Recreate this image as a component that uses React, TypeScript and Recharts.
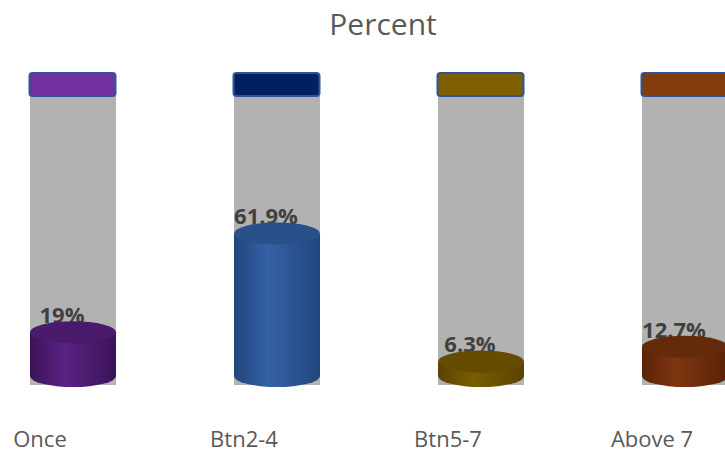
import { BarChart, Bar, XAxis, YAxis } from 'recharts';

const categories = ['Once', 'Btn2-4', 'Btn5-7', 'Above 7'];
const percents = [19, 61.9, 6.3, 12.7];

// cap on top of each tube, then the cylinder shades (edge, middle, top face)
const capColors = ['#7030a0', '#002060', '#7f6000', '#843c0c'];
const edgeColors = ['#3b1358', '#22457c', '#5a4300', '#5a2307'];
const midColors = ['#5a2384', '#3462a8', '#7a5d00', '#7e3611'];
const faceColors = ['#4a1a6d', '#2a5089', '#654c00', '#652a0a'];

const chartData = categories.map((name, i) => ({ name, percent: percents[i] }));

const CAP_H = 24;
const RY = 11;

function Tube(props: any) {
  const { x, y, width, height, index } = props;
  if (width == null) return null;
  return (
    <g>
      <rect x={x} y={y + CAP_H} width={width} height={height - CAP_H + 9} fill="#b2b2b2" />
      <rect
        x={x - 0.5}
        y={y + 1}
        width={width}
        height={CAP_H - 1}
        rx={3}
        fill={capColors[index]}
        stroke="#2f5597"
        strokeWidth={2}
      />
    </g>
  );
}

function Cylinder(props: any) {
  const { x, y, width, height, index, payload } = props;
  if (width == null) return null;
  const rx = width / 2;
  const cx = x + rx;
  const bottom = y + height;
  const id = `tube-grad-${index}`;
  return (
    <g>
      <defs>
        <linearGradient id={id} x1="0" y1="0" x2="1" y2="0">
          <stop offset="0%" stopColor={edgeColors[index]} />
          <stop offset="40%" stopColor={midColors[index]} />
          <stop offset="100%" stopColor={edgeColors[index]} />
        </linearGradient>
      </defs>
      <text
        x={cx - 11}
        y={y - 18}
        textAnchor="middle"
        dominantBaseline="central"
        fontFamily="Open Sans"
        fontWeight="bold"
        fontSize={22}
        fill="#404040"
      >
        {`${payload.percent}%`}
      </text>
      <path
        d={`M${x},${y} L${x},${bottom} A${rx},${RY} 0 0 0 ${x + width},${bottom} L${x + width},${y} Z`}
        fill={`url(#${id})`}
      />
      <ellipse cx={cx} cy={y} rx={rx} ry={RY} fill={faceColors[index]} />
    </g>
  );
}

function CategoryTick(props: any) {
  const { x, y, payload } = props;
  return (
    <text
      x={x - 33}
      y={y}
      dy={63}
      textAnchor="middle"
      fontFamily="Open Sans"
      fontSize={22}
      fill="#595959"
    >
      {payload.value}
    </text>
  );
}

export default function App() {
  return (
    <div
      style={{
        position: 'fixed',
        left: 0,
        top: 0,
        width: 725,
        height: 453,
        overflow: 'hidden',
        background: '#ffffff',
      }}
    >
      <div
        style={{
          position: 'absolute',
          left: 383,
          top: 3,
          transform: 'translateX(-50%)',
          fontFamily: 'Open Sans',
          fontSize: 30,
          color: '#595959',
          whiteSpace: 'nowrap',
        }}
      >
        Percent
      </div>
      <div style={{ position: 'absolute', left: -29, top: 0 }}>
        <BarChart
          width={816}
          height={453}
          data={chartData}
          margin={{ top: 72, right: 0, bottom: 0, left: 0 }}
          barSize={86}
        >
          <XAxis
            dataKey="name"
            axisLine={false}
            tickLine={false}
            height={77}
            tick={<CategoryTick />}
            interval={0}
          />
          <YAxis hide domain={[0, 132]} />
          <Bar
            dataKey="percent"
            background={(p: any) => <Tube {...p} />}
            shape={(p: any) => <Cylinder {...p} />}
            isAnimationActive={false}
          />
        </BarChart>
      </div>
    </div>
  );
}
